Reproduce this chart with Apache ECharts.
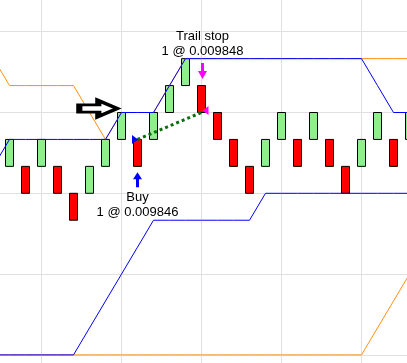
<!DOCTYPE html>
<html><head><meta charset="utf-8">
<script src="https://cdn.jsdelivr.net/npm/echarts@6.0.0/dist/echarts.min.js"></script>
<style>html,body{margin:0;padding:0;background:#fff}#c{width:407px;height:363px}</style>
</head><body><div id="c"></div>
<script>
// Renko bricks, brick index 0..25
const brickOpen  = [0.009844,0.009844,0.009844,0.009844,0.009842,0.009842,0.009844,0.009846,0.009846,0.009846,0.009848,0.009850,0.009850,0.009848,0.009846,0.009844,0.009844,0.009846,0.009846,0.009846,0.009846,0.009844,0.009844,0.009846,0.009846,0.009846];
const brickClose = [0.009846,0.009842,0.009846,0.009842,0.009840,0.009844,0.009846,0.009848,0.009844,0.009848,0.009850,0.009852,0.009848,0.009846,0.009844,0.009842,0.009846,0.009848,0.009844,0.009848,0.009844,0.009842,0.009846,0.009848,0.009844,0.009848];

// Channel lines; first value belongs to brick index -1
const lineStart = -1;
const upperFast = [0.009844,0.009846,0.009846,0.009846,0.009846,0.009846,0.009846,0.009846,0.009848,0.009848,0.009848,0.009850,0.009852,0.009852,0.009852,0.009852,0.009852,0.009852,0.009852,0.009852,0.009852,0.009852,0.009852,0.009852,0.009850,0.009848,0.009848,0.009848];
const lowerFast = [0.009830,0.009830,0.009830,0.009830,0.009830,0.009830,0.009832,0.009834,0.009836,0.009838,0.009840,0.009840,0.009840,0.009840,0.009840,0.009840,0.009840,0.009842,0.009842,0.009842,0.009842,0.009842,0.009842,0.009842,0.009842,0.009842,0.009842,0.009842];
const upperSlow = [0.009852,0.009850,0.009850,0.009850,0.009850,0.009850,0.009848,0.009846,0.009848,0.009848,0.009848,0.009850,0.009852,0.009852,0.009852,0.009852,0.009852,0.009852,0.009852,0.009852,0.009852,0.009852,0.009852,0.009852,0.009852,0.009852,0.009852,0.009852];
const lowerSlow = [0.009830,0.009830,0.009830,0.009830,0.009830,0.009830,0.009830,0.009830,0.009830,0.009830,0.009830,0.009830,0.009830,0.009830,0.009830,0.009830,0.009830,0.009830,0.009830,0.009830,0.009830,0.009830,0.009830,0.009830,0.009832,0.009834,0.009836,0.009838];

// Trade
const signalIndex = 7;
const entryIndex = 8, entryPrice = 0.009846, entryLabel = 'Buy';
const exitIndex = 12, exitPrice = 0.009848, exitLabel = 'Trail stop';
const quantity = 1;

const chart = echarts.init(document.getElementById('c'), null, {renderer: 'canvas'});
const bricks = brickOpen.map((o, i) => [i, o, brickClose[i], Math.min(o, brickClose[i]), Math.max(o, brickClose[i])]);
const toLine = arr => arr.map((v, k) => [k + lineStart, v]);
const brickLow = i => Math.min(brickOpen[i], brickClose[i]);
const brickHigh = i => Math.max(brickOpen[i], brickClose[i]);
const font = {fontFamily: 'Liberation Sans, Arial, sans-serif', fontSize: 13, color: '#000', lineHeight: 15};

const thinLine = (data, color, z) => ({
  type: 'line', data, symbol: 'none', z, silent: true,
  lineStyle: {color, width: 1}, animation: false
});

chart.setOption({
  animation: false,
  backgroundColor: '#fff',
  grid: {left: -38.5, width: 480, top: -129.9, height: 646.4, containLabel: false, outerBoundsMode: 'none'},
  xAxis: {type: 'value', min: -3, max: 27, interval: 5,
    axisLine: {show: false}, axisTick: {show: false}, axisLabel: {show: false},
    splitLine: {show: true, lineStyle: {color: '#e0e0e0', width: 1}}},
  yAxis: {type: 'value', min: 0.009818, max: 0.009866, interval: 0.000006, scale: true,
    axisLine: {show: false}, axisTick: {show: false}, axisLabel: {show: false},
    splitLine: {show: true, lineStyle: {color: '#e0e0e0', width: 1}}},
  series: [
    {type: 'candlestick', data: bricks, encode: {x: 0, y: [1, 2, 3, 4]}, barWidth: 9, z: 2, silent: true,
      itemStyle: {color: '#90ee90', color0: '#ff0000', borderColor: '#000', borderColor0: '#000', borderWidth: 1}},
    thinLine(toLine(upperSlow), '#ff9010', 3),
    thinLine(toLine(lowerSlow), '#ff9010', 3),
    thinLine(toLine(upperFast), '#0000ff', 4),
    thinLine(toLine(lowerFast), '#0000ff', 4),
    {type: 'line', data: [[entryIndex, entryPrice], [exitIndex, exitPrice]], symbol: 'none', z: 5, silent: true,
      lineStyle: {color: '#0a6e0a', width: 3, type: 'dotted'}},
    // hollow signal arrow
    {type: 'scatter', z: 6, silent: true, data: [[signalIndex, brickHigh(signalIndex)]],
      symbol: 'path://M0,4.4 L19,4.4 L19,0 L38,8 L19,16 L19,11.6 L0,11.6 Z', symbolSize: [38, 16], symbolKeepAspect: false,
      symbolOffset: [-23.2, -4],
      itemStyle: {color: '#fff', borderColor: '#000', borderWidth: 4, borderJoin: 'miter', opacity: 1}},
    // entry / exit markers
    {type: 'scatter', z: 7, silent: true, data: [[entryIndex, entryPrice]],
      symbol: 'path://M0,0 L6,4.5 L0,9 Z', symbolSize: [6, 9], symbolOffset: [-2.5, 0],
      itemStyle: {color: '#0000ff', opacity: 1}},
    {type: 'scatter', z: 7, silent: true, data: [[exitIndex, exitPrice]],
      symbol: 'path://M6,0 L0,4.5 L6,9 Z', symbolSize: [6, 9], symbolOffset: [4, -2],
      itemStyle: {color: '#ff00ff', opacity: 1}},
    // entry arrow + label
    {type: 'scatter', z: 7, silent: true, data: [[entryIndex, brickLow(entryIndex)]],
      symbol: 'path://M4.5,0 L9,7 L6,7 L6,15 L3,15 L3,7 L0,7 Z', symbolSize: [9, 15], symbolOffset: [0, 13.5],
      itemStyle: {color: '#0000ff', opacity: 1},
      label: {show: true, position: 'bottom', distance: 2.5, ...font,
        formatter: () => entryLabel + '\n' + quantity + ' @ ' + entryPrice.toFixed(6)}},
    // exit arrow + label
    {type: 'scatter', z: 7, silent: true, data: [[exitIndex, brickHigh(exitIndex)]],
      symbol: 'path://M3,0 L6,0 L6,8 L9,8 L4.5,16 L0,8 L3,8 Z', symbolSize: [9, 16], symbolOffset: [1, -14.5],
      itemStyle: {color: '#ff00ff', opacity: 1},
      label: {show: true, position: 'top', distance: 4.5, ...font,
        formatter: () => exitLabel + '\n' + quantity + ' @ ' + exitPrice.toFixed(6)}}
  ]
});
</script></body></html>
